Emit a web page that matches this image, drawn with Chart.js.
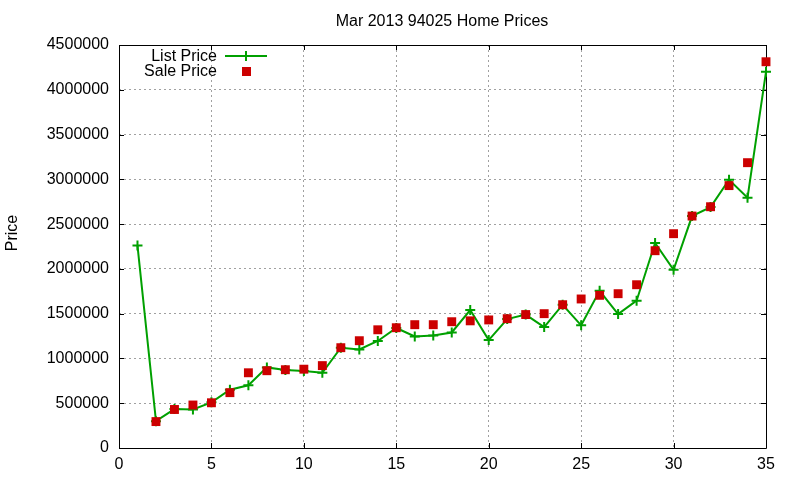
<!DOCTYPE html>
<html>
<head>
<meta charset="utf-8">
<script src="https://cdn.jsdelivr.net/npm/chart.js@4.4.1/dist/chart.umd.min.js"></script>
<style>
  html, body { margin: 0; padding: 0; background: #ffffff; }
  #wrap { width: 800px; height: 480px; position: relative; }
</style>
</head>
<body>
<div id="wrap"><canvas id="c" width="800" height="480"></canvas></div>
<script>
const chartTitle = "Mar 2013 94025 Home Prices";
const yAxisTitle = "Price";
const seriesNames = ["List Price", "Sale Price"];
const xValues = [1,2,3,4,5,6,7,8,9,10,11,12,13,14,15,16,17,18,19,20,21,22,23,24,25,26,27,28,29,30,31,32,33,34,35];
const listPrice = [2260000, 300000, 435000, 430000, 510000, 650000, 700000, 900000, 870000, 860000,
                   840000, 1120000, 1100000, 1195000, 1340000, 1245000, 1255000, 1290000, 1540000, 1205000,
                   1440000, 1490000, 1350000, 1600000, 1370000, 1755000, 1495000, 1645000, 2290000, 1990000,
                   2590000, 2690000, 2995000, 2795000, 4200000];
const salePrice = [null, 295000, 430000, 480000, 505000, 618000, 840000, 863000, 874000, 880000,
                   920000, 1120000, 1198000, 1320000, 1343000, 1377000, 1377000, 1410000, 1420000, 1430000,
                   1444000, 1490000, 1500000, 1600000, 1664000, 1705000, 1723000, 1823000, 2203000, 2393000,
                   2590000, 2694000, 2930000, 3186000, 4313000];
const xTicks = [0,5,10,15,20,25,30,35];
const yTicks = [0,500000,1000000,1500000,2000000,2500000,3000000,3500000,4000000,4500000];

const FONT = '"Liberation Sans", Arial, sans-serif';
const GREEN = '#00a000';
const RED = '#cc0000';

const listData = xValues.map((x, i) => ({x: x, y: listPrice[i]}));
const saleData = xValues.map((x, i) => ({x: x, y: salePrice[i]})).filter(p => p.y !== null);

const decor = {
  id: 'decor',
  beforeDatasetsDraw(chart) {
    const ctx = chart.ctx, a = chart.chartArea;
    const xs = chart.scales.x, ys = chart.scales.y;
    ctx.save();
    ctx.strokeStyle = '#000';
    ctx.lineWidth = 1;
    ctx.beginPath();
    ctx.rect(Math.round(a.left) + 0.5, Math.round(a.top) + 0.5, Math.round(a.right - a.left), Math.round(a.bottom - a.top));
    ctx.stroke();
    ctx.beginPath();
    const tl = 5;
    yTicks.forEach(v => {
      const y = Math.round(ys.getPixelForValue(v)) + 0.5;
      ctx.moveTo(a.left, y); ctx.lineTo(a.left + tl, y);
      ctx.moveTo(a.right, y); ctx.lineTo(a.right - tl, y);
    });
    xTicks.forEach(v => {
      const x = Math.round(xs.getPixelForValue(v)) + 0.5;
      ctx.moveTo(x, a.bottom); ctx.lineTo(x, a.bottom - tl);
      ctx.moveTo(x, a.top); ctx.lineTo(x, a.top + tl);
    });
    ctx.stroke();
    ctx.restore();
  },
  afterDraw(chart) {
    const ctx = chart.ctx;
    ctx.save();
    ctx.fillStyle = '#000';
    ctx.font = '16px ' + FONT;
    ctx.textAlign = 'center';
    ctx.textBaseline = 'alphabetic';
    ctx.fillText(chartTitle, 442, 26);
    // y axis title
    ctx.save();
    ctx.translate(17, 233);
    ctx.rotate(-Math.PI / 2);
    ctx.fillText(yAxisTitle, 0, 0);
    ctx.restore();
    // legend
    ctx.textAlign = 'right';
    ctx.fillText(seriesNames[0], 217, 61);
    ctx.fillText(seriesNames[1], 217, 76);
    ctx.strokeStyle = GREEN;
    ctx.lineWidth = 2;
    ctx.beginPath();
    ctx.moveTo(225, 56); ctx.lineTo(267, 56);
    ctx.moveTo(246, 51); ctx.lineTo(246, 61);
    ctx.stroke();
    ctx.fillStyle = RED;
    ctx.fillRect(242, 67, 9, 9);
    ctx.restore();
  }
};

new Chart(document.getElementById('c'), {
  type: 'scatter',
  data: {
    datasets: [
      {
        label: seriesNames[0],
        data: listData,
        showLine: true,
        clip: false,
        borderColor: GREEN,
        backgroundColor: GREEN,
        borderWidth: 2,
        pointStyle: 'cross',
        pointRadius: 5,
        pointBorderWidth: 2,
        pointBorderColor: GREEN,
        tension: 0,
        order: 2
      },
      {
        label: seriesNames[1],
        data: saleData,
        showLine: false,
        clip: false,
        pointStyle: 'rect',
        pointRadius: 6.3,
        pointBorderWidth: 0,
        backgroundColor: RED,
        borderColor: RED,
        order: 1
      }
    ]
  },
  options: {
    responsive: false,
    animation: false,
    devicePixelRatio: 1,
    layout: { padding: { top: 45, right: 34, bottom: 0, left: 0 } },
    plugins: {
      legend: { display: false },
      title: { display: false },
      tooltip: { enabled: false }
    },
    scales: {
      x: {
        type: 'linear',
        min: 0, max: 35,
        afterFit(s) { s.height = 32; },
        afterBuildTicks(s) { s.ticks = xTicks.map(v => ({value: v})); },
        grid: { color: '#a0a0a0', lineWidth: 1, drawTicks: false },
        border: { display: false, dash: [2, 3] },
        ticks: { color: '#000', font: { family: FONT, size: 16 }, padding: 7, maxRotation: 0,
                 callback: v => String(v) }
      },
      y: {
        type: 'linear',
        min: 0, max: 4500000,
        afterFit(s) { s.width = 119; },
        afterBuildTicks(s) { s.ticks = yTicks.map(v => ({value: v})); },
        grid: { color: '#a0a0a0', lineWidth: 1, drawTicks: false },
        border: { display: false, dash: [2, 3] },
        ticks: { color: '#000', font: { family: FONT, size: 16 }, padding: 10,
                 callback: v => String(v) }
      }
    }
  },
  plugins: [decor]
});
</script>
</body>
</html>
